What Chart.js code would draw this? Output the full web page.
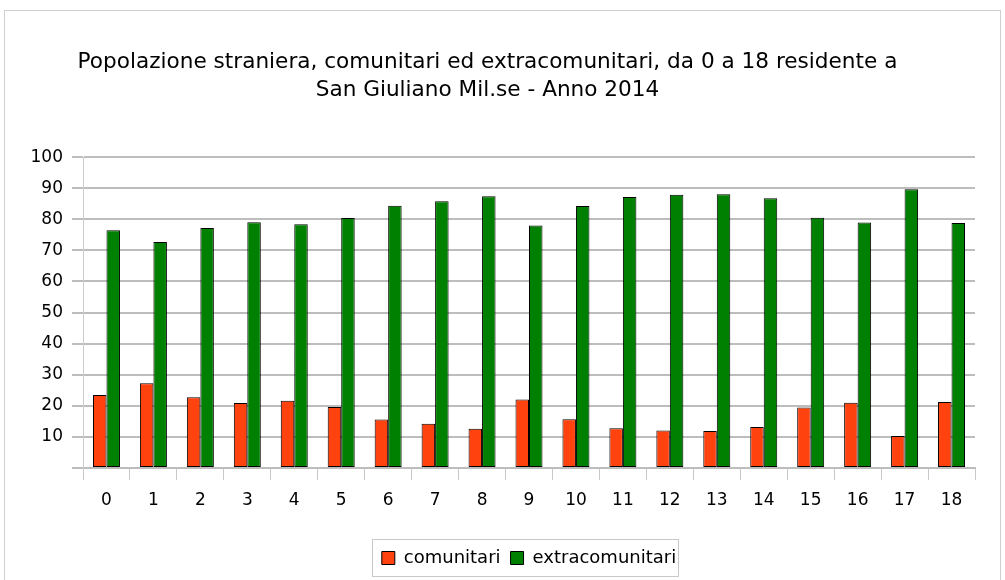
<!DOCTYPE html>
<html>
<head>
<meta charset="utf-8">
<script src="https://cdn.jsdelivr.net/npm/chart.js@4.4.1/dist/chart.umd.min.js"></script>
<style>
  html, body { margin: 0; padding: 0; background: #fff; }
  #wrap { position: relative; width: 1005px; height: 580px; }
  #frame { position: absolute; left: 4px; top: 10px; width: 995px; height: 575px; border: 1px solid #cfcfcf; pointer-events: none; }
  canvas { position: absolute; left: 0; top: 0; }
</style>
</head>
<body>
<div id="wrap">
  <canvas id="chart" width="1005" height="580"></canvas>
  <div id="frame"></div>
</div>
<script>
// --- dati ---
const AGES = ['0','1','2','3','4','5','6','7','8','9','10','11','12','13','14','15','16','17','18'];
const COMUNITARI = [23.5, 27.3, 22.8, 20.9, 21.6, 19.6, 15.6, 14.2, 12.6, 22.0, 15.7, 12.8, 12.1, 11.9, 13.2, 19.5, 21.0, 10.3, 21.2];
const EXTRACOMUNITARI = [76.5, 72.7, 77.2, 79.1, 78.4, 80.4, 84.4, 85.8, 87.4, 78.0, 84.3, 87.2, 87.9, 88.1, 86.8, 80.5, 79.0, 89.7, 78.8];
const Y_MIN = 0, Y_MAX = 100, Y_STEP = 10;
const TITLE = ['Popolazione straniera, comunitari ed extracomunitari, da 0 a 18 residente a', 'San Giuliano Mil.se - Anno 2014'];

const FONT = "'DejaVu Sans', 'Liberation Sans', sans-serif";
const GRID = '#bdbdbd';

// riquadro attorno alla legenda
const legendFrame = {
    id: 'legendFrame',
    afterDraw(chart) {
        const lg = chart.legend;
        if (!lg || !lg.legendHitBoxes || !lg.legendHitBoxes.length) return;
        const boxes = lg.legendHitBoxes;
        const first = boxes[0], last = boxes[boxes.length - 1];
        const ctx = chart.ctx;
        ctx.save();
        ctx.strokeStyle = '#c8c8c8';
        ctx.lineWidth = 1;
        ctx.strokeRect(Math.round(first.left - 10) + 0.5, Math.round(lg.top) + 0.5,
            Math.round(last.left + last.width - first.left + 12), Math.round(lg.height - 1));
        ctx.restore();
    }
};

new Chart(document.getElementById('chart'), {
    type: 'bar',
    data: {
        labels: AGES,
        datasets: [{
            label: 'comunitari',
            data: COMUNITARI,
            backgroundColor: '#ff420e',
            borderColor: '#000',
            borderWidth: 1,
            borderSkipped: false
        }, {
            label: 'extracomunitari',
            data: EXTRACOMUNITARI,
            backgroundColor: '#008000',
            borderColor: '#000',
            borderWidth: 1,
            borderSkipped: false
        }]
    },
    options: {
        responsive: false,
        animation: false,
        layout: { padding: { left: 0, right: 30, top: 0, bottom: 3 } },
        datasets: { bar: { categoryPercentage: 0.575, barPercentage: 1.0 } },
        scales: {
            x: {
                grid: {
                    offset: true,
                    color: (c) => (c.index === 0 || c.index === AGES.length) ? GRID : 'rgba(0,0,0,0)',
                    tickColor: '#c8c8c8',
                    tickLength: 12,
                    lineWidth: 1
                },
                border: { color: GRID, width: 2 },
                ticks: { color: '#000', font: { family: FONT, size: 17 }, padding: 10 },
                afterFit: (s) => { s.height = 71; }
            },
            y: {
                min: Y_MIN, max: Y_MAX,
                grid: { color: GRID, lineWidth: 2, tickLength: 11, tickColor: GRID },
                border: { color: '#cccccc', width: 1 },
                ticks: {
                    stepSize: Y_STEP,
                    color: '#000',
                    font: { family: FONT, size: 17 },
                    padding: 9,
                    callback: (v) => v === 0 ? '' : v
                },
                afterFit: (s) => { s.width = 83; }
            }
        },
        plugins: {
            title: {
                display: true,
                text: TITLE,
                color: '#000',
                font: { family: FONT, size: 21.6, weight: 'normal', lineHeight: 1.3 },
                padding: { top: 48, bottom: 53 }
            },
            legend: {
                position: 'bottom',
                fullSize: false,
                labels: {
                    color: '#000',
                    font: { family: FONT, size: 18 },
                    boxWidth: 13,
                    boxHeight: 13,
                    padding: 10
                }
            },
            tooltip: { enabled: false }
        }
    },
    plugins: [legendFrame]
});
</script>
</body>
</html>
